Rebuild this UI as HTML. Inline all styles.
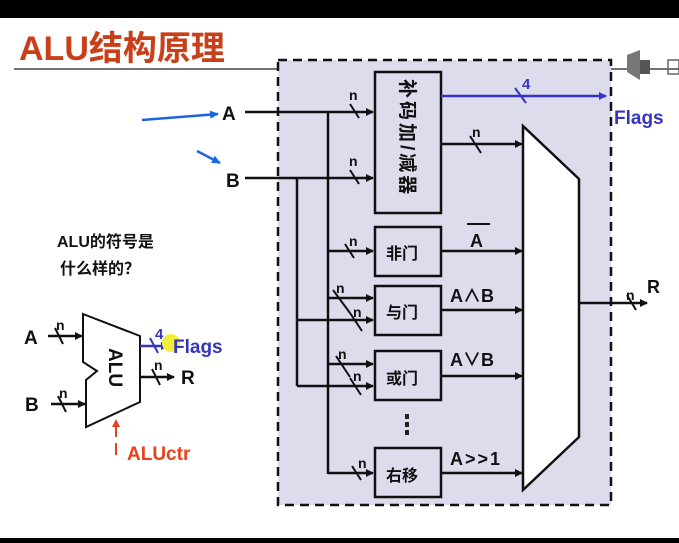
<!DOCTYPE html>
<html><head><meta charset="utf-8"><style>
html,body{margin:0;padding:0;background:#fff;}
svg{display:block;}
text{font-family:"Liberation Sans","Noto Sans CJK SC",sans-serif;font-weight:bold;}
</style></head><body>
<svg width="679" height="543" viewBox="0 0 679 543" xmlns="http://www.w3.org/2000/svg">
<defs>
<marker id="ar" markerWidth="8" markerHeight="8" refX="7" refY="4" orient="auto" markerUnits="userSpaceOnUse"><path d="M0,0 L8,4 L0,8 z" fill="#111"/></marker>
<marker id="ab" markerWidth="8" markerHeight="8" refX="7" refY="4" orient="auto" markerUnits="userSpaceOnUse"><path d="M0,0 L8,4 L0,8 z" fill="#3535c0"/></marker>
<marker id="al" markerWidth="9" markerHeight="8" refX="8" refY="4" orient="auto" markerUnits="userSpaceOnUse"><path d="M0,0 L9,4 L0,8 z" fill="#1a66e0"/></marker>
<marker id="arr" markerWidth="8" markerHeight="8" refX="7" refY="4" orient="auto" markerUnits="userSpaceOnUse"><path d="M0,0 L8,4 L0,8 z" fill="#e8401a"/></marker>
</defs>
<rect x="0" y="0" width="679" height="18" fill="#000"/>
<rect x="0" y="538" width="679" height="5" fill="#000"/>
<text x="19" y="60" font-size="34" fill="#c8401a">ALU结构原理</text>
<line x1="14" y1="69" x2="679" y2="69" stroke="#444" stroke-width="1.5"/>
<rect x="278" y="60" width="333" height="445" fill="#dcdcec" stroke="#111" stroke-width="2.5" stroke-dasharray="9,6"/>
<g stroke="#111" stroke-width="2.5" fill="none">
<rect x="375" y="72" width="66" height="141" fill="#dcdcec"/>
<rect x="375" y="227" width="66" height="49"/>
<rect x="375" y="286" width="66" height="49"/>
<rect x="375" y="351" width="66" height="49"/>
<rect x="375" y="448" width="66" height="49"/>
<path d="M523,126 L579,179 L579,437 L523,490 Z" fill="#fff"/>
<line x1="245" y1="112" x2="373" y2="112" marker-end="url(#ar)"/>
<line x1="245" y1="178" x2="373" y2="178" marker-end="url(#ar)"/>
<line x1="328" y1="112" x2="328" y2="474"/>
<line x1="297" y1="178" x2="297" y2="386"/>
<line x1="328" y1="251" x2="373" y2="251" marker-end="url(#ar)"/>
<line x1="328" y1="298" x2="373" y2="298" marker-end="url(#ar)"/>
<line x1="297" y1="320" x2="373" y2="320" marker-end="url(#ar)"/>
<line x1="328" y1="364" x2="373" y2="364" marker-end="url(#ar)"/>
<line x1="297" y1="386" x2="373" y2="386" marker-end="url(#ar)"/>
<line x1="328" y1="473" x2="373" y2="473" marker-end="url(#ar)"/>
<line x1="441" y1="144" x2="522" y2="144" marker-end="url(#ar)"/>
<line x1="441" y1="251" x2="522" y2="251" marker-end="url(#ar)"/>
<line x1="441" y1="310" x2="522" y2="310" marker-end="url(#ar)"/>
<line x1="441" y1="376" x2="522" y2="376" marker-end="url(#ar)"/>
<line x1="441" y1="473" x2="522" y2="473" marker-end="url(#ar)"/>
<line x1="579" y1="303" x2="647" y2="303" marker-end="url(#ar)"/>
<g stroke-width="2">
<line x1="350" y1="104" x2="359" y2="118"/>
<line x1="350" y1="170" x2="359" y2="184"/>
<line x1="345" y1="244" x2="354" y2="258"/>
<line x1="333" y1="290" x2="350" y2="313"/>
<line x1="350" y1="313" x2="362" y2="331"/>
<line x1="336" y1="356" x2="350" y2="377"/>
<line x1="350" y1="378" x2="361" y2="395"/>
<line x1="352" y1="466" x2="361" y2="480"/>
<line x1="470" y1="136" x2="481" y2="153"/>
<line x1="627" y1="295" x2="636" y2="310"/>
</g>
</g>
<line x1="441" y1="96" x2="606" y2="96" stroke="#3535c0" stroke-width="2.5" marker-end="url(#ab)"/>
<line x1="515" y1="88" x2="526" y2="103" stroke="#3535c0" stroke-width="2"/>
<text x="522" y="89" font-size="15" fill="#3535c0">4</text>
<text x="614" y="124" font-size="19" fill="#3535c0">Flags</text>
<g font-size="14" fill="#111">
<text x="349" y="100">n</text><text x="349" y="166">n</text><text x="349" y="246">n</text>
<text x="336" y="293">n</text><text x="353" y="317">n</text>
<text x="338" y="359">n</text><text x="353" y="381">n</text>
<text x="358" y="468">n</text><text x="472" y="137">n</text><text x="626" y="300">n</text>
</g>
<text x="647" y="293" font-size="18" fill="#111">R</text>
<text x="0" y="0" font-size="19" fill="#111" transform="translate(401,79) rotate(90)" letter-spacing="3">补码加/减器</text>
<g font-size="16" fill="#111">
<text x="386" y="259">非门</text><text x="386" y="318">与门</text><text x="386" y="384">或门</text><text x="386" y="481">右移</text>
</g>
<g font-size="18" fill="#111">
<text x="470" y="247">A</text>
<line x1="467" y1="224" x2="490" y2="224" stroke="#111" stroke-width="2"/>
<text x="450" y="302">A∧B</text>
<text x="450" y="366">A∨B</text>
<text x="450" y="465" letter-spacing="2">A&gt;&gt;1</text>
</g>
<g fill="#222"><rect x="405" y="414" width="4" height="5"/><rect x="405" y="422" width="4" height="5"/><rect x="405" y="430" width="4" height="5"/></g>
<text x="222" y="120" font-size="19" fill="#111">A</text>
<text x="226" y="187" font-size="19" fill="#111">B</text>
<line x1="142" y1="120" x2="218" y2="114" stroke="#1a66e0" stroke-width="2.5" marker-end="url(#al)"/>
<line x1="197" y1="151" x2="220" y2="163" stroke="#1a66e0" stroke-width="2.5" marker-end="url(#al)"/>
<text x="57" y="247" font-size="16" fill="#111">ALU的符号是</text>
<text x="60" y="274" font-size="16" fill="#111">什么样的？</text>
<path d="M83,314 L140,336 L140,402 L86,427 L86,380 L97,371 L83,362 Z" fill="#fff" stroke="#111" stroke-width="2"/>
<text x="0" y="0" font-size="19" fill="#111" transform="translate(109,348) rotate(90)">ALU</text>
<g stroke="#111" stroke-width="2.5">
<line x1="48" y1="336" x2="82" y2="336" marker-end="url(#ar)"/>
<line x1="51" y1="404" x2="85" y2="404" marker-end="url(#ar)"/>
<line x1="140" y1="377" x2="174" y2="377" marker-end="url(#ar)"/>
<line x1="55" y1="328" x2="63" y2="344" stroke-width="2"/>
<line x1="58" y1="396" x2="66" y2="412" stroke-width="2"/>
<line x1="152" y1="369" x2="160" y2="385" stroke-width="2"/>
</g>
<line x1="140" y1="346" x2="168" y2="346" stroke="#3535c0" stroke-width="2.5" marker-end="url(#ab)"/>
<line x1="150" y1="338" x2="158" y2="353" stroke="#3535c0" stroke-width="2"/>
<circle cx="171" cy="343" r="9" fill="#f2ee3a"/>
<g font-size="14" fill="#111"><text x="56" y="330">n</text><text x="59" y="398">n</text><text x="154" y="370">n</text></g>
<text x="155" y="339" font-size="15" fill="#3535c0">4</text>
<text x="173" y="353" font-size="19" fill="#3535c0">Flags</text>
<text x="24" y="344" font-size="19" fill="#111">A</text>
<text x="25" y="411" font-size="19" fill="#111">B</text>
<text x="181" y="384" font-size="19" fill="#111">R</text>
<line x1="116" y1="455" x2="116" y2="420" stroke="#e8401a" stroke-width="2" stroke-dasharray="12,6" marker-end="url(#arr)"/>
<text x="127" y="460" font-size="19" fill="#e8401a">ALUctr</text>
<path d="M627,55 L640,50 L640,80 L627,72 Z" fill="#777"/>
<rect x="640" y="60" width="10" height="14" fill="#555"/>
<rect x="668" y="60" width="11" height="14" fill="none" stroke="#666" stroke-width="1.5"/>
</svg>
</body></html>
